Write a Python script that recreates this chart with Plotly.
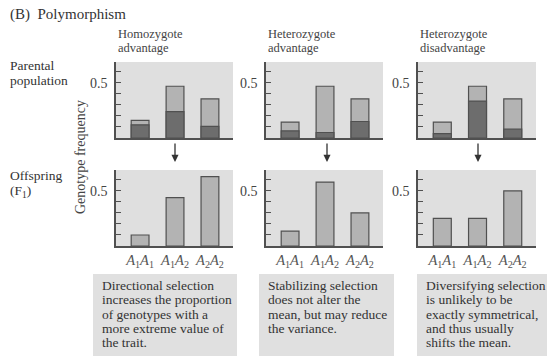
import plotly.graph_objects as go

W, H = 548, 358

# ---- data ----
genotypes = ["A1A1", "A1A2", "A2A2"]
genotype_labels = ["<i>A</i><sub>1</sub><i>A</i><sub>1</sub>",
                   "<i>A</i><sub>1</sub><i>A</i><sub>2</sub>",
                   "<i>A</i><sub>2</sub><i>A</i><sub>2</sub>"]
panel_titles = [["Homozygote", "advantage"], ["Heterozygote", "advantage"], ["Heterozygote", "disadvantage"]]

parent_total = [
    [0.16, 0.47, 0.355],
    [0.145, 0.47, 0.355],
    [0.145, 0.47, 0.355],
]
parent_dark = [
    [0.12, 0.24, 0.105],
    [0.065, 0.05, 0.15],
    [0.04, 0.335, 0.08],
]
offspring = [
    [0.10, 0.44, 0.63],
    [0.135, 0.58, 0.30],
    [0.25, 0.25, 0.50],
]

box_texts = [
    ["Directional selection", "increases the proportion", "of genotypes with a",
     "more extreme value of", "the trait."],
    ["Stabilizing selection", "does not alter the", "mean, but may reduce",
     "the variance."],
    ["Diversifying selection", "is unlikely to be", "exactly symmetrical,",
     "and thus usually", "shifts the mean."],
]
row_labels = [["Parental", "population"], ["Offspring", "(F<sub>1</sub>)"]]
y_label_vals = [0.5]
y_label_text = ["0.5"]

# ---- layout helpers ----
def px(x):
    return x / W

def py(y):
    return 1 - y / H

SERIF = "Liberation Serif, Times New Roman, serif"
TXT = "#333333"
LIGHT = "#b3b3b3"
DARK = "#6d6d6d"
EDGE = "#505050"
BG = "#dfdfdf"

panel_x = [(116, 233), (266, 383), (418, 536)]
top_y = (62, 138)
bot_y = (170, 246)
box_x = [(93, 237), (259, 394), (417, 547)]
text_x = [100, 266, 424]

fig = go.Figure()
xs = [0, 1, 2]
layout_axes = {}
shapes = []
annotations = []

for i in range(3):
    for row in range(2):
        idx = i * 2 + row + 1
        xa = "x" if idx == 1 else f"x{idx}"
        ya = "y" if idx == 1 else f"y{idx}"
        xkey = "xaxis" if idx == 1 else f"xaxis{idx}"
        ykey = "yaxis" if idx == 1 else f"yaxis{idx}"
        yr = top_y if row == 0 else bot_y
        if row == 0:
            total = parent_total[i]
            dark = parent_dark[i]
            fig.add_trace(go.Bar(x=xs, y=total, width=0.51, marker=dict(color=LIGHT, line=dict(color=EDGE, width=1.2)),
                                 xaxis=xa, yaxis=ya, showlegend=False, hoverinfo="skip"))
            fig.add_trace(go.Bar(x=xs, y=dark, width=0.51, marker=dict(color=DARK, line=dict(color=EDGE, width=1.2)),
                                 xaxis=xa, yaxis=ya, showlegend=False, hoverinfo="skip"))
        else:
            fig.add_trace(go.Bar(x=xs, y=offspring[i], width=0.51, marker=dict(color=LIGHT, line=dict(color=EDGE, width=1.2)),
                                 xaxis=xa, yaxis=ya, showlegend=False, hoverinfo="skip"))
        xaxis = dict(
            domain=[px(panel_x[i][0]), px(panel_x[i][1])], anchor=ya,
            range=[-0.69, 2.66], showgrid=False, zeroline=False,
            showline=True, linecolor=EDGE, linewidth=1.5,
            ticks="", showticklabels=(row == 1),
            tickfont=dict(family=SERIF, size=14.5, color="#555555"),
            fixedrange=True,
        )
        if row == 1:
            xaxis.update(tickvals=xs, ticktext=genotype_labels)
        layout_axes[xkey] = xaxis
        layout_axes[ykey] = dict(
            domain=[py(yr[1]), py(yr[0])], anchor=xa,
            range=[0, 0.69], showgrid=False, zeroline=False,
            showline=True, linecolor=EDGE, linewidth=1.5,
            tickvals=y_label_vals, ticktext=y_label_text, ticks="inside", ticklen=5,
            tickcolor=EDGE, tickwidth=1.2, ticklabelstandoff=4,
            minor=dict(ticks="inside", ticklen=5, tick0=0, dtick=0.1, tickcolor=EDGE,
                       tickwidth=1.2, showgrid=False),
            tickfont=dict(family=SERIF, size=14, color="#444444"),
            fixedrange=True,
        )
        # white line at 0.5
        shapes.append(dict(type="line", xref=f"{xa} domain", yref=ya, x0=0, x1=1, y0=0.5, y1=0.5,
                           line=dict(color="white", width=1.2), layer="below"))
        shapes.append(dict(type="rect", xref=f"{xa} domain", yref=f"{ya} domain", x0=0, x1=1, y0=0, y1=1,
                           fillcolor=BG, line=dict(width=0), layer="below"))
    # panel title
    for j, t in enumerate(panel_titles[i]):
        annotations.append(dict(x=px(panel_x[i][0]), y=py(34 + j * 14), xref="paper", yref="paper",
                                text=t, showarrow=False, xanchor="left", yanchor="middle",
                                font=dict(family=SERIF, size=12.5, color="#444444")))
    # text box
    shapes.append(dict(type="rect", xref="paper", yref="paper",
                       x0=px(box_x[i][0]), x1=px(box_x[i][1]), y0=py(356), y1=py(274),
                       fillcolor="#e0e0e0", line=dict(width=0), layer="below"))
    for j, line in enumerate(box_texts[i]):
        annotations.append(dict(x=px(text_x[i]), y=py(285.5 + j * 14.3), xref="paper", yref="paper",
                                text=line, showarrow=False, xanchor="left", yanchor="middle",
                                font=dict(family=SERIF, size=13.5, color=TXT)))

# arrows between rows
arrow_x = [175, 327, 478]
for ax_ in arrow_x:
    annotations.append(dict(x=px(ax_), y=py(162), xref="paper", yref="paper",
                            ax=0, ay=-20, axref="pixel", ayref="pixel",
                            text="", showarrow=True, arrowhead=2, arrowsize=1.1, arrowwidth=1.3,
                            arrowcolor="#333333"))

# left labels
row_label_y = [65, 175]
row_label_gap = [15, 16]
for r, lines in enumerate(row_labels):
    for j, t in enumerate(lines):
        annotations.append(dict(x=px(8), y=py(row_label_y[r] + j * row_label_gap[r]), xref="paper", yref="paper",
                                text=t, showarrow=False, xanchor="left", yanchor="middle",
                                font=dict(family=SERIF, size=13.5, color=TXT)))

annotations += [
    dict(x=px(8), y=py(14), xref="paper", yref="paper", text="(B)  Polymorphism", showarrow=False,
         xanchor="left", yanchor="middle", font=dict(family=SERIF, size=15, color=TXT)),
    dict(x=px(80), y=py(157), xref="paper", yref="paper", text="Genotype frequency", showarrow=False,
         textangle=-90, xanchor="center", yanchor="middle", font=dict(family=SERIF, size=14, color="#444444")),
]

fig.update_layout(
    width=W, height=H, margin=dict(l=0, r=0, t=0, b=0),
    paper_bgcolor="white", plot_bgcolor="rgba(0,0,0,0)",
    barmode="overlay", showlegend=False,
    shapes=shapes, annotations=annotations, **layout_axes,
)

fig.write_html("out.html", config={"displayModeBar": False})
